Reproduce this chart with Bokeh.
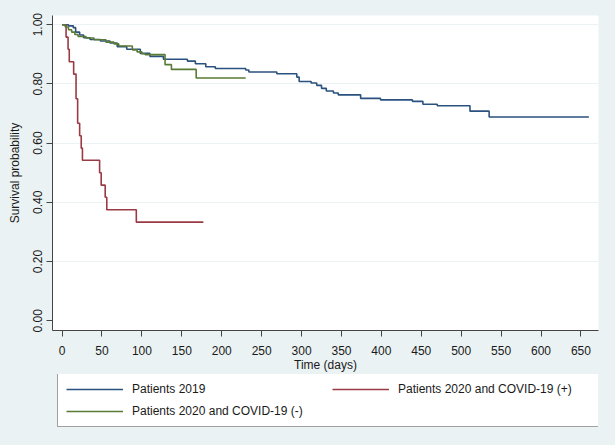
from bokeh.plotting import figure
from bokeh.layouts import column
from bokeh.models import (FixedTicker, PrintfTickFormatter, Legend, LegendItem,
                          Range1d)
from bokeh.embed import file_html
from bokeh.resources import INLINE

# ---- data ----
t_2019 = [0, 8, 14, 17, 22, 27, 35, 48, 60, 69, 81, 98, 110, 127, 157, 167, 180,
          192, 230, 234, 269, 294, 297, 312, 319, 325, 331, 340, 346, 374, 399,
          439, 452, 470, 511, 535]
s_2019 = [1.0, 0.996, 0.99, 0.975, 0.965, 0.956, 0.95, 0.945, 0.938, 0.926, 0.917,
          0.903, 0.893, 0.883, 0.877, 0.868, 0.858, 0.852, 0.847, 0.840, 0.834,
          0.823, 0.808, 0.803, 0.795, 0.785, 0.776, 0.769, 0.763, 0.751, 0.746,
          0.741, 0.731, 0.726, 0.708, 0.688]
end_2019 = 660

t_pos = [0, 5, 7.5, 9, 14.5, 17.5, 19.5, 22, 24, 25.5, 47, 49, 54, 56, 93]
s_pos = [1.0, 0.958, 0.917, 0.875, 0.833, 0.75, 0.667, 0.625, 0.583, 0.542,
         0.5, 0.458, 0.417, 0.375, 0.333]
end_pos = 177

t_neg = [0, 4, 8, 12, 16, 20, 30, 40, 55, 65, 71, 88, 94, 100, 104, 129, 137, 168]
s_neg = [1.0, 0.992, 0.983, 0.975, 0.967, 0.96, 0.955, 0.949, 0.941, 0.935,
         0.928, 0.915, 0.908, 0.902, 0.899, 0.865, 0.849, 0.820]
end_neg = 230

x_ticks = list(range(0, 651, 50))
y_ticks = [0.0, 0.2, 0.4, 0.6, 0.8, 1.0]

labels = ["Patients 2019", "Patients 2020 and COVID-19 (+)",
          "Patients 2020 and COVID-19 (-)"]
colors = ["#2b527f", "#9a3a44", "#5a7b34"]

BG = "#eaf2f3"
FONT = "Liberation Sans"
TXT = "#1a1a1a"

p = figure(width=615, height=374, output_backend="svg", toolbar_location=None,
           x_range=Range1d(-12, 672), y_range=Range1d(-0.033, 1.031),
           background_fill_color="white", border_fill_color=BG,
           min_border_left=52, min_border_right=17, min_border_top=15,
           min_border_bottom=44)
p.outline_line_color = None

def steps(t, s, end):
    return list(t) + [end], list(s) + [s[-1]]

series = [steps(t_2019, s_2019, end_2019),
          steps(t_pos, s_pos, end_pos),
          steps(t_neg, s_neg, end_neg)]

for (xs, ys), c in zip(series, colors):
    p.step(xs, ys, mode="after", line_color=c, line_width=1.6)

# axes
p.xaxis.ticker = FixedTicker(ticks=x_ticks)
p.yaxis.ticker = FixedTicker(ticks=y_ticks)
p.yaxis.formatter = PrintfTickFormatter(format="%.2f")
p.yaxis.major_label_orientation = "vertical"
for ax in (p.xaxis[0], p.yaxis[0]):
    ax.axis_line_color = "#444444"
    ax.major_tick_line_color = "#444444"
    ax.major_tick_out = 6
    ax.major_tick_in = 0
    ax.minor_tick_line_color = None
    ax.major_label_text_font = FONT
    ax.major_label_text_font_size = "12px"
    ax.major_label_text_color = TXT
    ax.axis_label_text_font = FONT
    ax.axis_label_text_font_size = "12px"
    ax.axis_label_text_font_style = "normal"
    ax.axis_label_text_color = TXT
p.xaxis.axis_label = "Time (days)"
p.yaxis.axis_label = "Survival probability"
p.xaxis.major_label_standoff = 9
p.xaxis.axis_label_standoff = 0
p.yaxis.major_label_standoff = 4
p.yaxis.axis_label_standoff = 9

p.xgrid.grid_line_color = None
p.ygrid.ticker = FixedTicker(ticks=y_ticks[1:])
p.ygrid.grid_line_color = BG
p.ygrid.grid_line_width = 1.2

# ---- legend strip below the plot ----
lg = figure(width=615, height=71, output_backend="svg", toolbar_location=None,
            x_axis_location=None, y_axis_location=None,
            background_fill_color=BG, border_fill_color=BG,
            min_border_left=52, min_border_right=17, min_border_top=0,
            min_border_bottom=0)
lg.outline_line_color = None
lg.grid.visible = False
keys = [lg.step(xs, ys, mode="after", line_color=c, line_width=1.6, visible=False)
        for (xs, ys), c in zip(series, colors)]

legend = Legend(items=[LegendItem(label=lab, renderers=[k])
                       for lab, k in zip(labels, keys)],
                orientation="horizontal", ncols=2,
                location=(5, 18), glyph_width=57, glyph_height=14,
                label_standoff=9, label_width=192, label_height=14,
                spacing=8, padding=8, margin=0,
                border_line_color="#444444", border_line_width=1,
                background_fill_color="white", background_fill_alpha=1.0,
                label_text_font=FONT, label_text_font_size="12px",
                label_text_color=TXT)
lg.add_layout(legend, "center")

layout = column(p, lg, spacing=0)

html = file_html(layout, INLINE)
html = html.replace("<head>", "<head><style>body{background:#eaf2f3;}</style>", 1)
open("out.html", "w").write(html)
